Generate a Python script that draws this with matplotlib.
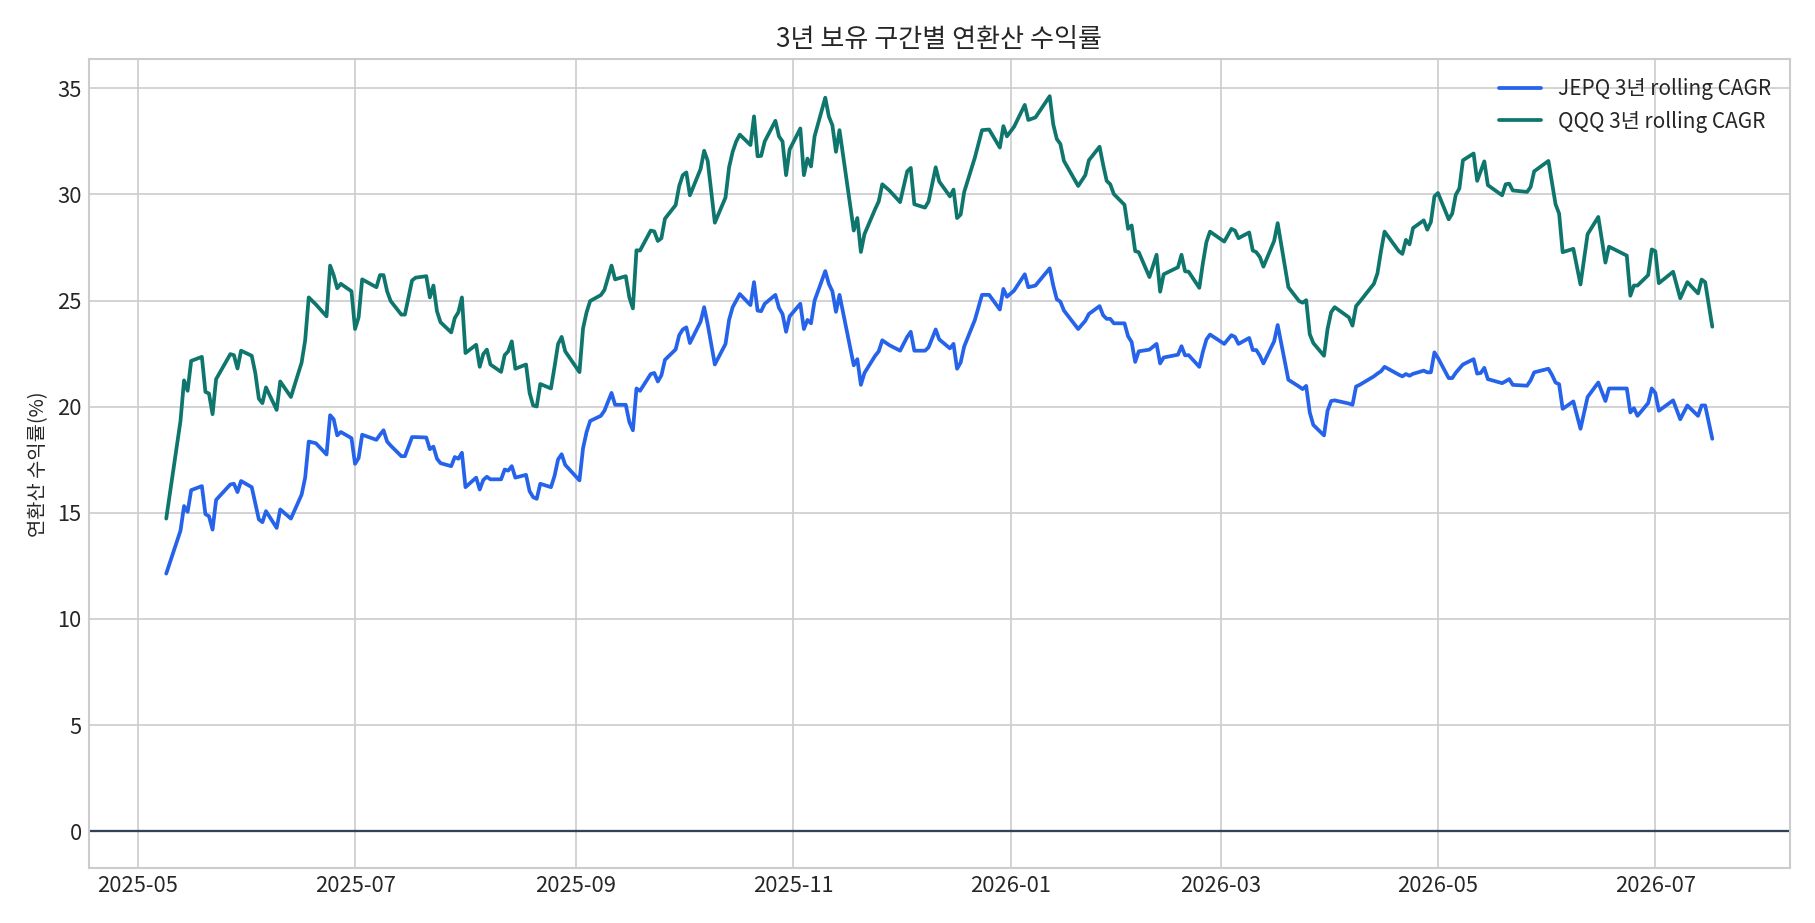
import matplotlib
matplotlib.use("Agg")
import matplotlib.pyplot as plt
import matplotlib.dates as mdates
import pandas as pd

# 3-year rolling CAGR (%)
dates = [
    "2025-05-09", "2025-05-13", "2025-05-14", "2025-05-15", "2025-05-16", "2025-05-19", "2025-05-20",
    "2025-05-21", "2025-05-22", "2025-05-23", "2025-05-27", "2025-05-28", "2025-05-29", "2025-05-30",
    "2025-06-02", "2025-06-03", "2025-06-04", "2025-06-05", "2025-06-06", "2025-06-09", "2025-06-10",
    "2025-06-13", "2025-06-16", "2025-06-17", "2025-06-18", "2025-06-20", "2025-06-23", "2025-06-24",
    "2025-06-25", "2025-06-26", "2025-06-27", "2025-06-30",
    "2025-07-01", "2025-07-02", "2025-07-03", "2025-07-07", "2025-07-08", "2025-07-09", "2025-07-10",
    "2025-07-11", "2025-07-14", "2025-07-15", "2025-07-17", "2025-07-18", "2025-07-21", "2025-07-22",
    "2025-07-23", "2025-07-24", "2025-07-25", "2025-07-28", "2025-07-29", "2025-07-30", "2025-07-31",
    "2025-08-01", "2025-08-04", "2025-08-05", "2025-08-06", "2025-08-07", "2025-08-08", "2025-08-11",
    "2025-08-12", "2025-08-13", "2025-08-14", "2025-08-15", "2025-08-18", "2025-08-19", "2025-08-20",
    "2025-08-21", "2025-08-22", "2025-08-25", "2025-08-26", "2025-08-27", "2025-08-28", "2025-08-29",
    "2025-09-02", "2025-09-03", "2025-09-04", "2025-09-05", "2025-09-08", "2025-09-09", "2025-09-11",
    "2025-09-12", "2025-09-15", "2025-09-16", "2025-09-17", "2025-09-18", "2025-09-19", "2025-09-22",
    "2025-09-23", "2025-09-24", "2025-09-25", "2025-09-26", "2025-09-29", "2025-09-30",
    "2025-10-01", "2025-10-02", "2025-10-03", "2025-10-06", "2025-10-07", "2025-10-08", "2025-10-10",
    "2025-10-13", "2025-10-14", "2025-10-15", "2025-10-16", "2025-10-17", "2025-10-20", "2025-10-21",
    "2025-10-22", "2025-10-23", "2025-10-24", "2025-10-27", "2025-10-28", "2025-10-29", "2025-10-30",
    "2025-10-31",
    "2025-11-03", "2025-11-04", "2025-11-05", "2025-11-06", "2025-11-07", "2025-11-10", "2025-11-11",
    "2025-11-12", "2025-11-13", "2025-11-14", "2025-11-18", "2025-11-19", "2025-11-20", "2025-11-21",
    "2025-11-24", "2025-11-25", "2025-11-26", "2025-11-28",
    "2025-12-01", "2025-12-03", "2025-12-04", "2025-12-05", "2025-12-08", "2025-12-09", "2025-12-11",
    "2025-12-12", "2025-12-15", "2025-12-16", "2025-12-17", "2025-12-18", "2025-12-19", "2025-12-22",
    "2025-12-24", "2025-12-26", "2025-12-29", "2025-12-30", "2025-12-31",
    "2026-01-02", "2026-01-05", "2026-01-06", "2026-01-08", "2026-01-12", "2026-01-13", "2026-01-14",
    "2026-01-15", "2026-01-16", "2026-01-20", "2026-01-22", "2026-01-23", "2026-01-26", "2026-01-27",
    "2026-01-28", "2026-01-29", "2026-01-30",
    "2026-02-02", "2026-02-03", "2026-02-04", "2026-02-05", "2026-02-06", "2026-02-09", "2026-02-11",
    "2026-02-12", "2026-02-13", "2026-02-17", "2026-02-18", "2026-02-19", "2026-02-20", "2026-02-23",
    "2026-02-24", "2026-02-25", "2026-02-26",
    "2026-03-02", "2026-03-04", "2026-03-05", "2026-03-06", "2026-03-09", "2026-03-10", "2026-03-11",
    "2026-03-12", "2026-03-13", "2026-03-16", "2026-03-17", "2026-03-20", "2026-03-23", "2026-03-24",
    "2026-03-25", "2026-03-26", "2026-03-27", "2026-03-30", "2026-03-31",
    "2026-04-01", "2026-04-02", "2026-04-06", "2026-04-07", "2026-04-08", "2026-04-09", "2026-04-13",
    "2026-04-14", "2026-04-15", "2026-04-16", "2026-04-20", "2026-04-21", "2026-04-22", "2026-04-23",
    "2026-04-24", "2026-04-27", "2026-04-28", "2026-04-29", "2026-04-30",
    "2026-05-01", "2026-05-04", "2026-05-05", "2026-05-06", "2026-05-07", "2026-05-08", "2026-05-11",
    "2026-05-12", "2026-05-13", "2026-05-14", "2026-05-15", "2026-05-19", "2026-05-20", "2026-05-21",
    "2026-05-22", "2026-05-26", "2026-05-27", "2026-05-28",
    "2026-06-01", "2026-06-02", "2026-06-03", "2026-06-04", "2026-06-05", "2026-06-08", "2026-06-10",
    "2026-06-12", "2026-06-15", "2026-06-17", "2026-06-18", "2026-06-23", "2026-06-24", "2026-06-25",
    "2026-06-26", "2026-06-29", "2026-06-30",
    "2026-07-01", "2026-07-02", "2026-07-06", "2026-07-08", "2026-07-10", "2026-07-13", "2026-07-14",
    "2026-07-15", "2026-07-17",
]

jepq = [
    12.14, 14.16, 15.32, 15.05, 16.07, 16.26, 14.94, 14.84, 14.21, 15.61, 16.34, 16.37, 15.98, 16.50,
    16.21, 15.45, 14.69, 14.56, 15.08, 14.29, 15.16, 14.73, 15.86, 16.66, 18.36, 18.28, 17.75, 19.60,
    19.41, 18.65, 18.81, 18.52,
    17.31, 17.58, 18.68, 18.44, 18.68, 18.89, 18.36, 18.17, 17.67, 17.67, 18.57, 18.57, 18.55, 18.00,
    18.12, 17.55, 17.34, 17.20, 17.63, 17.55, 17.83,
    16.21, 16.66, 16.10, 16.55, 16.70, 16.58, 16.58, 17.04, 16.99, 17.20, 16.66, 16.79, 16.02, 15.74,
    15.66, 16.37, 16.21, 16.74, 17.52, 17.76, 17.26,
    16.53, 18.04, 18.81, 19.33, 19.57, 19.81, 20.65, 20.09, 20.09, 19.28, 18.89, 20.86, 20.75, 21.54,
    21.59, 21.19, 21.48, 22.21, 22.70, 23.37,
    23.64, 23.74, 23.00, 24.01, 24.69, 23.88, 21.99, 22.96, 24.09, 24.69, 25.00, 25.31, 24.79, 25.87,
    24.53, 24.50, 24.85, 25.27, 24.66, 24.37, 23.53, 24.26,
    24.85, 23.66, 24.09, 23.93, 25.00, 26.39, 25.79, 25.44, 24.47, 25.27, 21.95, 22.24, 21.03, 21.59,
    22.40, 22.61, 23.13, 22.90,
    22.64, 23.29, 23.53, 22.64, 22.64, 22.80, 23.64, 23.17, 22.75, 22.96, 21.79, 22.08, 22.84, 24.09,
    25.27, 25.27, 24.58, 25.55, 25.18,
    25.47, 26.24, 25.63, 25.71, 26.52, 25.71, 25.06, 24.95, 24.53, 23.66, 24.05, 24.37, 24.74, 24.31,
    24.14, 24.14, 23.93,
    23.93, 23.32, 23.05, 22.11, 22.61, 22.69, 22.96, 22.04, 22.32, 22.45, 22.85, 22.42, 22.43, 21.88,
    22.59, 23.17, 23.40,
    22.96, 23.37, 23.29, 22.96, 23.24, 22.67, 22.67, 22.40, 22.04, 23.08, 23.85, 21.27, 20.95, 20.83,
    20.98, 19.73, 19.14, 18.65, 19.81,
    20.27, 20.30, 20.15, 20.09, 20.95, 21.03, 21.43, 21.56, 21.67, 21.88, 21.51, 21.43, 21.54, 21.46,
    21.55, 21.70, 21.62, 21.62, 22.56,
    22.30, 21.35, 21.35, 21.60, 21.80, 21.99, 22.24, 21.56, 21.59, 21.83, 21.30, 21.11, 21.20, 21.30,
    21.03, 20.99, 21.24, 21.62,
    21.79, 21.50, 21.14, 21.06, 19.90, 20.25, 18.96, 20.46, 21.14, 20.27, 20.86, 20.86, 19.73, 19.93,
    19.57, 20.17, 20.86,
    20.65, 19.81, 20.30, 19.41, 20.06, 19.57, 20.06, 20.06, 18.49,
]

qqq = [
    14.73, 19.33, 21.24, 20.75, 22.16, 22.35, 20.70, 20.62, 19.65, 21.30, 22.48, 22.43, 21.80, 22.64,
    22.40, 21.59, 20.38, 20.17, 20.91, 19.85, 21.19, 20.46, 22.08, 23.13, 25.15, 24.82, 24.26, 26.65,
    26.20, 25.58, 25.79, 25.44,
    23.66, 24.21, 26.00, 25.63, 26.20, 26.20, 25.44, 24.98, 24.34, 24.34, 25.95, 26.08, 26.15, 25.15,
    25.71, 24.50, 23.98, 23.50, 24.18, 24.45, 25.15,
    22.53, 22.92, 21.88, 22.48, 22.69, 21.99, 21.64, 22.43, 22.61, 23.08, 21.79, 21.99, 20.65, 20.06,
    20.01, 21.07, 20.86, 21.88, 22.96, 23.29, 22.61,
    21.63, 23.69, 24.45, 24.98, 25.26, 25.50, 26.65, 26.00, 26.15, 25.15, 24.63, 27.37, 27.36, 28.30,
    28.26, 27.81, 27.94, 28.86, 29.50, 30.40,
    30.91, 31.04, 29.96, 31.20, 32.06, 31.58, 28.67, 29.86, 31.28, 32.01, 32.50, 32.82, 32.33, 33.68,
    31.80, 31.82, 32.50, 33.47, 32.74, 32.50, 30.91, 32.12,
    33.11, 30.91, 31.69, 31.32, 32.74, 34.56, 33.68, 33.26, 32.01, 33.03, 28.30, 28.89, 27.29, 28.13,
    29.31, 29.67, 30.48, 30.19,
    29.64, 31.09, 31.25, 29.54, 29.38, 29.67, 31.28, 30.61, 29.91, 30.23, 28.89, 29.05, 30.12, 31.74,
    33.03, 33.06, 32.21, 33.22, 32.74,
    33.19, 34.22, 33.51, 33.63, 34.63, 33.30, 32.61, 32.38, 31.58, 30.40, 30.91, 31.61, 32.25, 31.40,
    30.64, 30.48, 30.02,
    29.51, 28.38, 28.54, 27.33, 27.28, 26.11, 27.16, 25.42, 26.24, 26.57, 27.16, 26.38, 26.36, 25.60,
    26.76, 27.76, 28.25,
    27.78, 28.38, 28.30, 27.94, 28.21, 27.36, 27.28, 27.05, 26.60, 27.81, 28.65, 25.63, 24.98, 24.90,
    25.02, 23.42, 23.00, 22.40, 23.66,
    24.45, 24.69, 24.21, 23.82, 24.74, 24.94, 25.79, 26.28, 27.33, 28.25, 27.33, 27.20, 27.86, 27.65,
    28.42, 28.78, 28.34, 28.70, 29.91,
    30.07, 28.83, 29.10, 29.99, 30.28, 31.61, 31.93, 30.64, 31.10, 31.56, 30.44, 29.96, 30.48, 30.51,
    30.19, 30.12, 30.35, 31.09,
    31.58, 30.56, 29.54, 29.10, 27.28, 27.44, 25.76, 28.13, 28.94, 26.79, 27.54, 27.12, 25.23, 25.71,
    25.71, 26.20, 27.41,
    27.33, 25.82, 26.36, 25.11, 25.87, 25.34, 25.99, 25.87, 23.77,
]

plt.style.use("seaborn-v0_8-whitegrid")
plt.rcParams["font.family"] = ["Noto Sans CJK KR", "DejaVu Sans"]
plt.rcParams["axes.unicode_minus"] = False

x = pd.to_datetime(dates)

fig = plt.figure(figsize=(1815 / 150, 923 / 150), dpi=150)
ax = fig.add_axes([0.049, 0.0596, 0.937, 0.876])

ax.plot(x, jepq, color="#2563eb", lw=1.8, label="JEPQ 3년 rolling CAGR")
ax.plot(x, qqq, color="#0f766e", lw=1.8, label="QQQ 3년 rolling CAGR")
ax.axhline(0, color="#334155", lw=1.1)

ax.set_title("3년 보유 구간별 연환산 수익률", fontsize=12.5)
ax.set_ylabel("연환산 수익률(%)", fontsize=9.5)
ax.xaxis.set_major_locator(mdates.MonthLocator(bymonth=[1, 3, 5, 7, 9, 11]))
ax.xaxis.set_major_formatter(mdates.DateFormatter("%Y-%m"))
ax.set_yticks(range(0, 36, 5))
ax.tick_params(labelsize=10.5)
ax.legend(loc="upper right", fontsize=10)

fig.savefig("out.png", dpi=150)
